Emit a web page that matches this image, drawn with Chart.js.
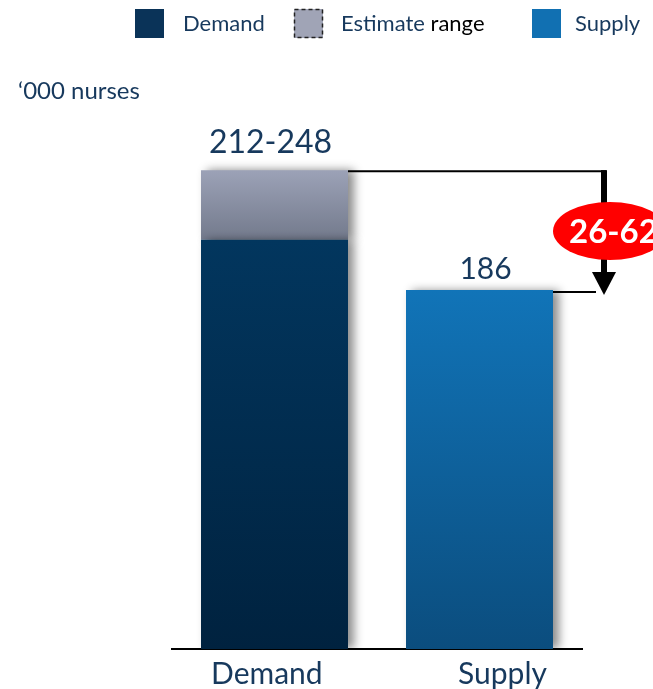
<!DOCTYPE html>
<html>
<head>
<meta charset="utf-8">
<script src="https://cdn.jsdelivr.net/npm/chart.js@4.4.1/dist/chart.umd.min.js"></script>
<style>
  html, body { margin: 0; padding: 0; background: #FFFFFF; }
  #wrap { width: 653px; height: 689px; position: relative; }
</style>
</head>
<body>
<div id="wrap"><canvas id="chart"></canvas></div>
<script>
const categories = ['Demand', 'Supply']
const demandLow = [212, null]
const demandHigh = [248, null]
const supply = [null, 186]
const gapLabel = '26-62'
const unitLabel = '\u2018000 nurses'

const NAVY = '#17395D'
const FONT = 'Lato, "Open Sans", sans-serif'

// stacked piece that sits on top of the low estimate
const rangePart = demandHigh.map((v, i) => (v == null ? null : v - demandLow[i]))

const vGradient = (top, bottom, from, to) => (ctx) => {
  const { chart } = ctx
  if (!chart.chartArea) return top
  const y = chart.scales.y
  const g = chart.ctx.createLinearGradient(0, y.getPixelForValue(from), 0, y.getPixelForValue(to))
  g.addColorStop(0, top)
  g.addColorStop(1, bottom)
  return g
}

const shadowPlugin = {
  id: 'barShadow',
  beforeDatasetsDraw: (chart) => {
    const { ctx } = chart
    ctx.save()
    ctx.shadowColor = 'rgba(0,0,0,0.45)'
    ctx.shadowBlur = 9
    ctx.shadowOffsetX = 6
    ctx.shadowOffsetY = 0
  },
  afterDatasetsDraw: (chart) => {
    chart.ctx.restore()
  },
}

const annotationPlugin = {
  id: 'annotations',
  afterDraw: (chart) => {
    const { ctx } = chart
    const y = chart.scales.y
    const demandBar = chart.getDatasetMeta(1).data[0]
    const supplyBar = chart.getDatasetMeta(2).data[1]
    const yHigh = y.getPixelForValue(demandHigh[0])
    const ySup = y.getPixelForValue(supply[1])
    const arrowX = 604

    ctx.save()

    // value labels
    ctx.fillStyle = NAVY
    ctx.textAlign = 'center'
    ctx.textBaseline = 'alphabetic'
    ctx.font = '32px ' + FONT
    ctx.fillText(demandLow[0] + '-' + demandHigh[0], demandBar.x - 4, yHigh - 17)
    ctx.font = '30px ' + FONT
    ctx.fillText(String(supply[1]), supplyBar.x + 6, ySup - 11)

    // bracket lines
    ctx.strokeStyle = '#000000'
    ctx.lineWidth = 2
    ctx.beginPath()
    ctx.moveTo(demandBar.x + demandBar.width / 2, yHigh + 1)
    ctx.lineTo(arrowX + 2, yHigh + 1)
    ctx.moveTo(supplyBar.x + supplyBar.width / 2, ySup + 2)
    ctx.lineTo(arrowX - 8, ySup + 2)
    ctx.stroke()

    // arrow
    const tip = ySup + 5
    ctx.fillStyle = '#000000'
    ctx.fillRect(arrowX - 3, yHigh, 6, tip - 22 - yHigh)
    ctx.beginPath()
    ctx.moveTo(arrowX - 12, tip - 23)
    ctx.lineTo(arrowX + 12, tip - 23)
    ctx.lineTo(arrowX, tip)
    ctx.closePath()
    ctx.fill()

    // gap bubble
    const cy = (yHigh + ySup) / 2 + 1
    ctx.fillStyle = '#FF0000'
    ctx.beginPath()
    ctx.ellipse(arrowX + 6, cy, 57, 29, 0, 0, Math.PI * 2)
    ctx.fill()
    ctx.fillStyle = '#FFFFFF'
    ctx.font = 'bold 33px ' + FONT
    ctx.textAlign = 'left'
    ctx.textBaseline = 'middle'
    ctx.fillText(gapLabel, 569, cy + 1)

    // unit label
    ctx.fillStyle = NAVY
    ctx.font = '24px ' + FONT
    ctx.textBaseline = 'alphabetic'
    ctx.fillText(unitLabel, 18, 99)

    // legend
    const ds = chart.data.datasets
    const items = [
      { box: 135, text: 183, color: '#0A3358', dashed: false },
      { box: 294, text: 341, color: '#A0A4B6', dashed: true },
      { box: 532, text: 575, color: '#1170B2', dashed: false },
    ]
    ctx.font = '22px ' + FONT
    items.forEach((it, i) => {
      ctx.fillStyle = it.color
      ctx.fillRect(it.box, 9, 29, 29)
      if (it.dashed) {
        ctx.setLineDash([4, 3])
        ctx.strokeStyle = '#222222'
        ctx.lineWidth = 1.5
        ctx.strokeRect(it.box + 0.5, 9.5, 28, 28)
        ctx.setLineDash([])
      }
      const label = ds[i].label
      ctx.fillStyle = NAVY
      if (it.dashed) {
        const parts = label.split(' ')
        ctx.fillText(parts[0], it.text, 31)
        const w = ctx.measureText(parts[0] + ' ').width
        ctx.fillStyle = '#000000'
        ctx.fillText(parts.slice(1).join(' '), it.text + w, 31)
      } else {
        ctx.fillText(label, it.text, 31)
      }
    })

    ctx.restore()
  },
}

// the category names sit a little off the bar centres in the original
const tickNudge = ['  ', '      ']

new Chart(document.getElementById('chart'), {
  type: 'bar',
  data: {
    labels: categories,
    datasets: [
      {
        label: 'Demand',
        data: demandLow,
        backgroundColor: vGradient('#02365E', '#00223F', demandLow[0], 0),
      },
      {
        label: 'Estimate range',
        data: rangePart,
        backgroundColor: vGradient('#9CA2B7', '#737A8C', demandHigh[0], demandLow[0]),
      },
      {
        label: 'Supply',
        data: supply,
        backgroundColor: vGradient('#1174B8', '#0B4D7E', supply[1], 0),
      },
    ],
  },
  options: {
    responsive: true,
    maintainAspectRatio: false,
    animation: false,
    events: [],
    layout: {
      padding: { left: 172, right: 71, top: 147, bottom: -10 },
    },
    datasets: {
      bar: { categoryPercentage: 1, barPercentage: 0.717, borderWidth: 0 },
    },
    plugins: {
      legend: { display: false },
      tooltip: { enabled: false },
    },
    scales: {
      x: {
        stacked: true,
        grid: { display: false, drawTicks: false },
        border: { display: true, color: '#000000', width: 2 },
        ticks: {
          color: NAVY,
          font: { family: FONT, size: 30 },
          padding: 7,
          callback: function (value, index) {
            const name = this.getLabelForValue(value)
            return index === 0 ? name + tickNudge[0] : tickNudge[1] + name
          },
        },
      },
      y: {
        stacked: true,
        display: false,
        min: 0,
        max: 260,
      },
    },
  },
  plugins: [shadowPlugin, annotationPlugin],
})
</script>
</body>
</html>
